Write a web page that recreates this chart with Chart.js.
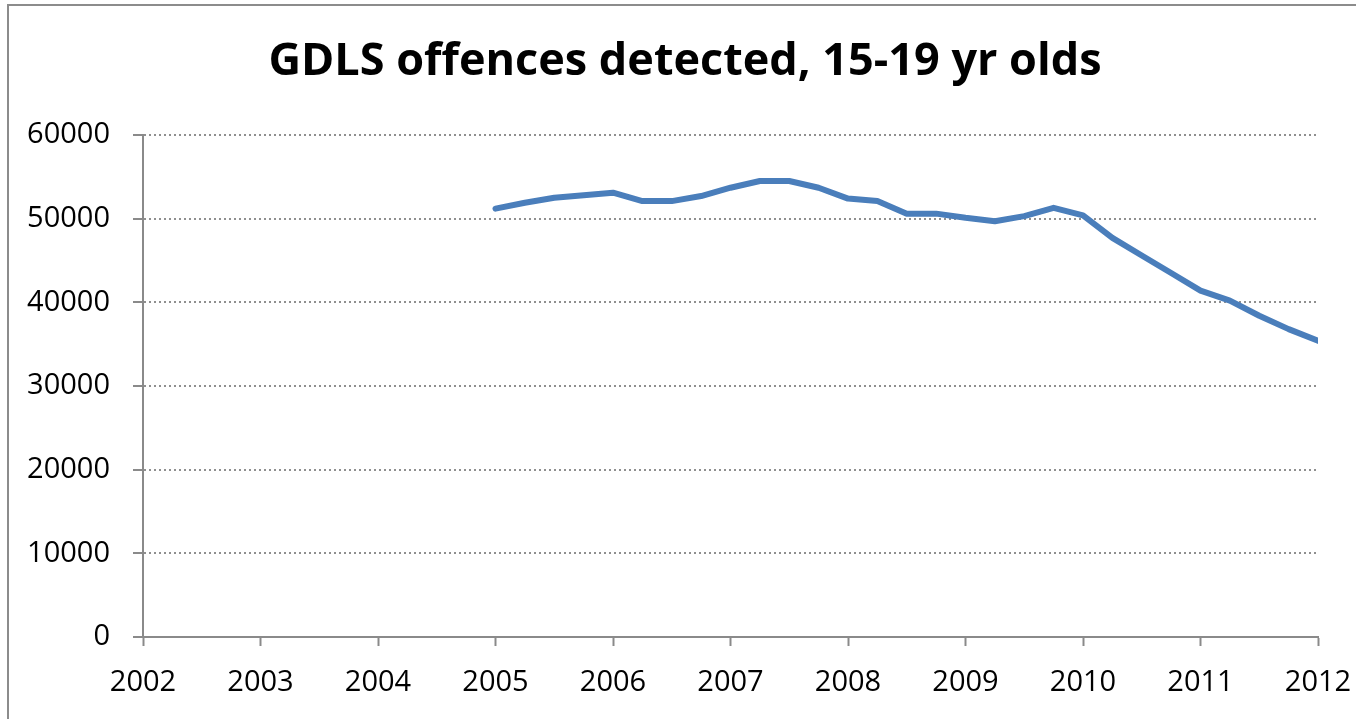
<!DOCTYPE html>
<html>
<head>
<meta charset="utf-8">
<script src="https://cdn.jsdelivr.net/npm/chart.js@4/dist/chart.umd.min.js"></script>
<style>
  html, body { margin: 0; padding: 0; background: #ffffff; overflow: hidden; }
  canvas { display: block; }
</style>
</head>
<body>
<canvas id="c" width="1356" height="719"></canvas>
<script>
const titleText = "GDLS offences detected, 15-19 yr olds";

const quarters = [
  2005.00, 2005.25, 2005.50, 2005.75,
  2006.00, 2006.25, 2006.50, 2006.75,
  2007.00, 2007.25, 2007.50, 2007.75,
  2008.00, 2008.25, 2008.50, 2008.75,
  2009.00, 2009.25, 2009.50, 2009.75,
  2010.00, 2010.25, 2010.50, 2010.75,
  2011.00, 2011.25, 2011.50, 2011.75,
  2012.00
];

const offences = [
  51200, 51900, 52500, 52800,
  53100, 52100, 52100, 52700,
  53700, 54500, 54500, 53700,
  52400, 52100, 50600, 50600,
  50100, 49700, 50300, 51300,
  50400, 47700, 45600, 43500,
  41400, 40200, 38400, 36800,
  35400
];

const xTickMin = 2002, xTickMax = 2012, xTickStep = 1;
const yTickMin = 0, yTickMax = 60000, yTickStep = 10000;

const points = quarters.map((q, i) => ({ x: q, y: offences[i] }));

const axisGray = '#8a8a8a';
const gridGray = '#8f8f8f';

const framePlugin = {
  id: 'frame',
  beforeDraw(chart) {
    const ctx = chart.ctx;
    ctx.save();
    ctx.fillStyle = '#ffffff';
    ctx.fillRect(0, 0, chart.width, chart.height);
    ctx.strokeStyle = '#8c8c8c';
    ctx.lineWidth = 2;
    ctx.strokeRect(8, 5, 1500, 900);
    ctx.restore();
  }
};

new Chart(document.getElementById('c'), {
  type: 'line',
  data: {
    datasets: [{
      data: points,
      borderColor: '#4a7ebb',
      backgroundColor: '#4a7ebb',
      borderWidth: 6,
      borderCapStyle: 'round',
      borderJoinStyle: 'round',
      pointRadius: 0,
      pointHoverRadius: 0,
      tension: 0,
      fill: false
    }]
  },
  options: {
    responsive: false,
    animation: false,
    devicePixelRatio: 1,
    layout: { padding: { left: 14, right: 0, top: 0, bottom: 0 } },
    plugins: {
      legend: { display: false },
      tooltip: { enabled: false },
      title: {
        display: true,
        text: titleText,
        color: '#000000',
        font: { family: "'Open Sans', sans-serif", size: 45, weight: 'bold' },
        padding: { top: 35.5, bottom: 45.5 }
      }
    },
    scales: {
      x: {
        type: 'linear',
        min: xTickMin,
        max: xTickMax,
        afterFit(scale) {
          scale.height = 82;
          scale.paddingLeft = 0;
          scale.paddingRight = 38;
        },
        ticks: {
          stepSize: xTickStep,
          color: '#000000',
          padding: 19,
          maxRotation: 0,
          autoSkip: false,
          font: { family: "'Open Sans', sans-serif", size: 29 },
          callback: v => String(v)
        },
        grid: {
          drawOnChartArea: false,
          drawTicks: true,
          tickLength: 9,
          tickColor: axisGray,
          tickWidth: 2
        },
        border: { display: true, color: axisGray, width: 2 }
      },
      y: {
        min: yTickMin,
        max: yTickMax,
        afterFit(scale) {
          scale.width = 129;
          scale.paddingTop = 0;
          scale.paddingBottom = 0;
        },
        ticks: {
          stepSize: yTickStep,
          color: '#000000',
          padding: 23,
          font: { family: "'Open Sans', sans-serif", size: 29 },
          callback: v => String(v)
        },
        grid: {
          drawOnChartArea: true,
          drawTicks: true,
          tickLength: 10,
          color: c => (c.tick && c.tick.value === 0) ? 'rgba(0,0,0,0)' : gridGray,
          lineWidth: 2,
          tickColor: axisGray,
          tickWidth: 2,
          tickBorderDash: []
        },
        border: { display: true, color: axisGray, width: 2, dash: [2, 3] }
      }
    }
  },
  plugins: [framePlugin]
});
</script>
</body>
</html>
